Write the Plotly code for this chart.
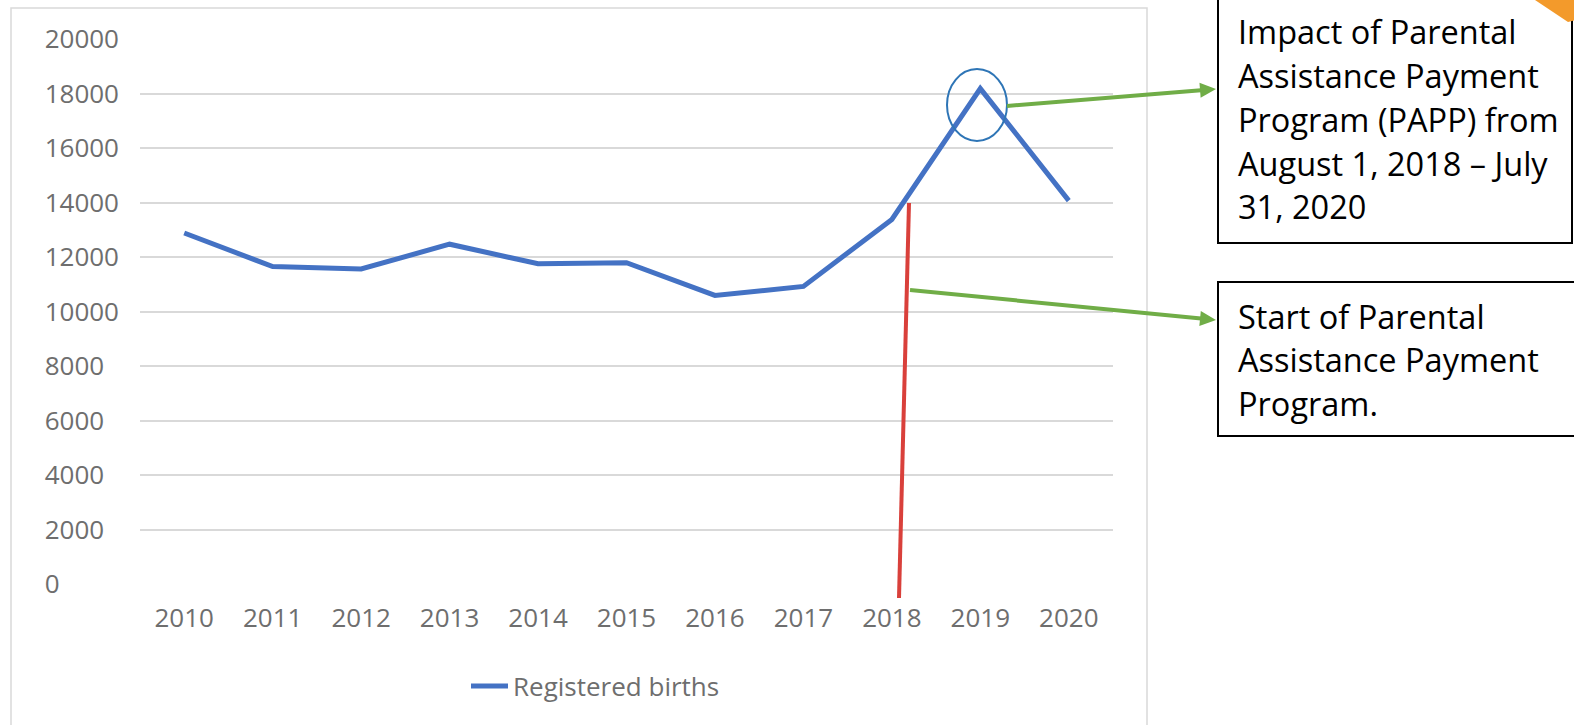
import plotly.graph_objects as go

# ---------------- data ----------------
years = ["2010", "2011", "2012", "2013", "2014", "2015", "2016", "2017", "2018", "2019", "2020"]
births = [12880, 11650, 11560, 12470, 11750, 11790, 10590, 10920, 13380, 18180, 14070]
series_name = "Registered births"
y_ticks = [0, 2000, 4000, 6000, 8000, 10000, 12000, 14000, 16000, 18000, 20000]
box1_lines = ["Impact of Parental", "Assistance Payment", "Program (PAPP) from",
              "August 1, 2018 \u2013 July", "31, 2020"]
box2_lines = ["Start of Parental", "Assistance Payment", "Program."]

W, H = 1574, 725
def px(x):
    return x / W
def py(y):
    return 1 - y / H

FONT = "Open Sans"
GRAY = "#6e6e6e"

# pad tick labels with figure spaces so they appear left-aligned
ytext = [str(v) + "\u2007" * (5 - len(str(v))) for v in y_ticks]

fig = go.Figure()
fig.add_trace(go.Scatter(
    x=years, y=births, mode="lines", name=series_name,
    line=dict(color="#4472C4", width=5),
))

fig.update_layout(
    width=W, height=H,
    margin=dict(l=0, r=0, t=0, b=0, autoexpand=False),
    paper_bgcolor="white", plot_bgcolor="white",
    showlegend=True,
    legend=dict(orientation="h", x=px(466), y=py(686), xanchor="left", yanchor="middle",
                itemwidth=37,
                font=dict(family=FONT, size=26, color=GRAY), bgcolor="rgba(0,0,0,0)"),
    xaxis=dict(domain=[px(140), px(1113)], type="category", range=[-0.5, 10.5], automargin=False,
               showgrid=False, zeroline=False, showline=False, ticks="",
               tickfont=dict(family=FONT, size=26, color=GRAY), ticklabelstandoff=16),
    yaxis=dict(domain=[py(584), py(39)], range=[0, 20000], tickvals=y_ticks, ticktext=ytext,
               automargin=False,
               showgrid=True, gridcolor="#d9d9d9", gridwidth=2, zeroline=False, showline=False,
               ticks="", tickfont=dict(family=FONT, size=26, color=GRAY), ticklabelstandoff=20),
)

shapes = []
# chart area border
shapes.append(dict(type="rect", xref="paper", yref="paper", x0=px(11), x1=px(1147), y0=py(745), y1=py(8),
                   line=dict(color="#d9d9d9", width=1.5), fillcolor="rgba(0,0,0,0)", layer="below"))
# red vertical marker line
shapes.append(dict(type="line", xref="paper", yref="paper", x0=px(909), y0=py(203), x1=px(899), y1=py(598),
                   line=dict(color="#D9403B", width=4)))
# blue ellipse around peak
shapes.append(dict(type="circle", xref="paper", yref="paper", x0=px(947), x1=px(1007), y0=py(141), y1=py(69),
                   line=dict(color="#2E75B6", width=2)))

# green arrows
def arrow(x0, y0, x1, y1, head=16, half=7.5, color="#70AD47"):
    dx, dy = x1 - x0, y1 - y0
    L = (dx * dx + dy * dy) ** 0.5
    ux, uy = dx / L, dy / L
    bx, by = x1 - head * ux, y1 - head * uy
    nx, ny = -uy, ux
    shapes.append(dict(type="line", xref="paper", yref="paper", x0=px(x0), y0=py(y0), x1=px(bx + ux), y1=py(by + uy),
                       line=dict(color=color, width=4)))
    p = "M{:.5f},{:.5f} L{:.5f},{:.5f} L{:.5f},{:.5f} Z".format(
        px(x1), py(y1), px(bx + half * nx), py(by + half * ny), px(bx - half * nx), py(by - half * ny))
    shapes.append(dict(type="path", xref="paper", yref="paper", path=p, fillcolor=color, line=dict(width=0)))

arrow(1007, 106, 1216, 89)
arrow(910, 290, 1216, 320)

# text boxes
shapes.append(dict(type="rect", xref="paper", yref="paper", x0=px(1218), x1=px(1572), y0=py(243), y1=py(-10),
                   line=dict(color="black", width=2), fillcolor="rgba(0,0,0,0)"))
shapes.append(dict(type="rect", xref="paper", yref="paper", x0=px(1218), x1=px(1590), y0=py(436), y1=py(282),
                   line=dict(color="black", width=2), fillcolor="rgba(0,0,0,0)"))
# orange corner
shapes.append(dict(type="path", xref="paper", yref="paper",
                   path="M{},{} L{},{} L{},{} L{},{} Z".format(px(1532), py(-2), px(1576), py(-2), px(1576), py(20), px(1568), py(22)),
                   fillcolor="#F39A2B", line=dict(width=0)))
fig.update_layout(shapes=shapes)

annotations = []
for i, t in enumerate(box1_lines):
    annotations.append(dict(text=t, xref="paper", yref="paper", x=px(1236), y=py(32 + 43.7 * i),
                            xanchor="left", yanchor="middle", showarrow=False,
                            font=dict(family=FONT, size=32.5, color="black")))
for i, t in enumerate(box2_lines):
    annotations.append(dict(text=t, xref="paper", yref="paper", x=px(1236), y=py(316 + 43.7 * i),
                            xanchor="left", yanchor="middle", showarrow=False,
                            font=dict(family=FONT, size=32.5, color="black")))
fig.update_layout(annotations=annotations)

fig.write_html("out.html", config=dict(displayModeBar=False),
               post_script="document.body.style.margin='0';document.body.style.overflow='hidden';")
